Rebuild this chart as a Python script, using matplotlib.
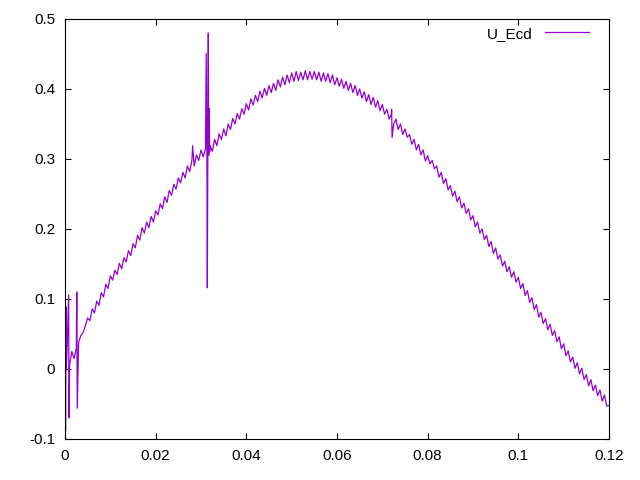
import matplotlib
matplotlib.use('Agg')
import matplotlib.pyplot as plt
import numpy as np

plt.rcParams['font.family'] = ['Liberation Sans', 'DejaVu Sans']
plt.rcParams['font.size'] = 11

# main trace, every 0.0005 (x from 0 to 0.12)
u_ecd = [
    -0.085, 0.035, 0.005, 0.025, 0.015, 0.030, 0.038, 0.048, 0.052, 0.062,
    0.073, 0.069, 0.086, 0.080, 0.097, 0.091, 0.109, 0.103, 0.121, 0.115,
    0.133, 0.127, 0.141, 0.135, 0.151, 0.143, 0.159, 0.153, 0.169, 0.162,
    0.179, 0.173, 0.191, 0.184, 0.202, 0.194, 0.210, 0.202, 0.218, 0.210,
    0.226, 0.220, 0.236, 0.229, 0.246, 0.238, 0.255, 0.248, 0.264, 0.257,
    0.273, 0.266, 0.281, 0.273, 0.290, 0.282, 0.298, 0.290, 0.306, 0.298,
    0.313, 0.303, 0.315, 0.305, 0.319, 0.311, 0.328, 0.319, 0.336, 0.328,
    0.343, 0.333, 0.350, 0.342, 0.358, 0.350, 0.365, 0.357, 0.372, 0.364,
    0.379, 0.370, 0.386, 0.377, 0.391, 0.382, 0.397, 0.387, 0.401, 0.391,
    0.405, 0.395, 0.408, 0.398, 0.413, 0.403, 0.417, 0.406, 0.420, 0.409,
    0.423, 0.411, 0.425, 0.412, 0.424, 0.413, 0.426, 0.413, 0.425, 0.414,
    0.425, 0.413, 0.424, 0.411, 0.423, 0.411, 0.422, 0.409, 0.420, 0.406,
    0.416, 0.404, 0.414, 0.401, 0.411, 0.398, 0.408, 0.395, 0.405, 0.391,
    0.400, 0.387, 0.396, 0.382, 0.392, 0.378, 0.388, 0.374, 0.383, 0.369,
    0.378, 0.364, 0.371, 0.357, 0.364, 0.350, 0.357, 0.342, 0.350, 0.335,
    0.343, 0.331, 0.335, 0.321, 0.328, 0.313, 0.321, 0.306, 0.313, 0.297,
    0.305, 0.293, 0.298, 0.286, 0.290, 0.274, 0.281, 0.265, 0.272, 0.256,
    0.262, 0.247, 0.254, 0.239, 0.246, 0.230, 0.237, 0.222, 0.229, 0.213,
    0.219, 0.203, 0.210, 0.194, 0.200, 0.185, 0.191, 0.175, 0.182, 0.165,
    0.173, 0.157, 0.163, 0.147, 0.154, 0.139, 0.146, 0.131, 0.139, 0.124,
    0.131, 0.115, 0.122, 0.105, 0.112, 0.095, 0.102, 0.085, 0.092, 0.074,
    0.081, 0.065, 0.072, 0.056, 0.064, 0.048, 0.055, 0.039, 0.046, 0.029,
    0.036, 0.019, 0.026, 0.010, 0.017, 0.001, 0.009, -0.007, 0.001, -0.015,
    -0.008, -0.024, -0.015, -0.031, -0.023, -0.038, -0.030, -0.046, -0.037, -0.053,
    -0.052,
]
t_main = np.linspace(0, 0.12, len(u_ecd))

# spikes that stick out of the trace
spike_t = [0.00015, 0.0002, 0.0003, 0.0008, 0.0009, 0.0026, 0.0027,
           0.02815, 0.03115, 0.0313, 0.03139, 0.0315, 0.03161, 0.0317,
           0.03183, 0.0319, 0.07205, 0.07215]
spike_u = [-0.087, 0.089, 0.000, 0.106, -0.070, 0.110, -0.056,
           0.319, 0.451, 0.310, 0.116, 0.310, 0.480, 0.305,
           0.372, 0.310, 0.371, 0.331]

t = np.concatenate([t_main, spike_t])
u = np.concatenate([u_ecd, spike_u])
order = np.argsort(t, kind='stable')

fig = plt.figure(figsize=(6.4, 4.8), dpi=100)
ax = fig.add_axes([65 / 640, 1 - 439 / 480, 544 / 640, 420 / 480])
ax.plot(t[order], u[order], color='#9400D3', lw=0.9, label='U_Ecd')

ax.set_xlim(0, 0.12)
ax.set_ylim(-0.1, 0.5)
ax.set_xticks([0, 0.02, 0.04, 0.06, 0.08, 0.1, 0.12])
ax.set_xticklabels(['0', '0.02', '0.04', '0.06', '0.08', '0.1', '0.12'])
ax.set_yticks([-0.1, 0, 0.1, 0.2, 0.3, 0.4, 0.5])
ax.set_yticklabels(['-0.1', '0', '0.1', '0.2', '0.3', '0.4', '0.5'])
ax.tick_params(direction='in', top=True, right=True, length=4.5, width=0.8,
               labelsize=11, pad=7)
for s in ax.spines.values():
    s.set_linewidth(0.8)

ax.legend(loc='upper right', frameon=False, markerfirst=False,
          handlelength=2.9, fontsize=11, borderaxespad=0.1,
          bbox_to_anchor=(0.978, 1.0))

fig.savefig('out.png', dpi=100)
